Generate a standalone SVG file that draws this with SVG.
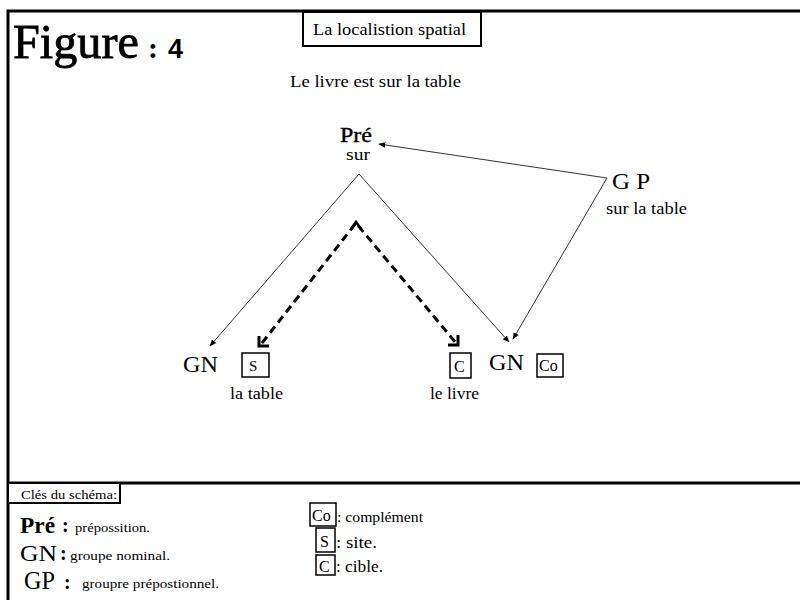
<svg xmlns="http://www.w3.org/2000/svg" width="800" height="600" viewBox="0 0 800 600">
<defs>
<style>
text{font-family:"Liberation Serif","DejaVu Serif",serif;fill:#000}
.frame{stroke:#000;stroke-width:3;fill:none}
.box{stroke:#000;stroke-width:2;fill:#fff}
.thin{stroke:#333;stroke-width:1;fill:none}
.dash{stroke:#000;stroke-width:3;stroke-dasharray:8 5;fill:none}
.lb{fill:#fff;stroke:#000;stroke-width:1.5}
</style>
<marker id="ah" viewBox="0 0 10 10" refX="9" refY="5" markerWidth="7" markerHeight="7" orient="auto" markerUnits="userSpaceOnUse">
<path d="M0,1 L10,5 L0,9 z" fill="#000"/>
</marker>
</defs>
<rect width="800" height="600" fill="#fff"/>
<g id="frame">
<path class="frame" d="M8,600 V11 H800"/>
<line class="frame" x1="8" y1="483" x2="800" y2="483"/>
</g>
<g id="title">
<text x="13" y="58" font-size="48" stroke="#000" stroke-width="0.8" textLength="126" lengthAdjust="spacingAndGlyphs">Figure</text>
<text x="148" y="58" font-size="30" font-weight="bold">:</text>
<text x="168" y="58" font-size="27" font-weight="bold" style="font-family:'Liberation Sans Narrow','Liberation Sans',sans-serif">4</text>
</g>
<g id="title-box">
<rect class="box" x="303" y="12" width="178" height="34"/>
<text x="313" y="35" font-size="16" textLength="153" lengthAdjust="spacingAndGlyphs">La localistion spatial</text>
</g>
<text x="290" y="87" font-size="16" textLength="171" lengthAdjust="spacingAndGlyphs">Le livre  est sur la table</text>
<g id="pre">
<text x="340" y="142" font-size="22" stroke="#000" stroke-width="0.4" textLength="32" lengthAdjust="spacingAndGlyphs">Pré</text>
<text x="346" y="160" font-size="16" textLength="24" lengthAdjust="spacingAndGlyphs">sur</text>
</g>
<g id="gp">
<text x="612" y="189" font-size="24" textLength="38" lengthAdjust="spacingAndGlyphs">G P</text>
<text x="606" y="214" font-size="16" textLength="81" lengthAdjust="spacingAndGlyphs">sur la table</text>
</g>
<g id="gn-left">
<text x="183" y="372" font-size="23" textLength="35" lengthAdjust="spacingAndGlyphs">GN</text>
<rect class="lb" x="242" y="353" width="27" height="24"/>
<text x="249" y="371" font-size="15">S</text>
<text x="230" y="399" font-size="16" textLength="53" lengthAdjust="spacingAndGlyphs">la table</text>
</g>
<g id="gn-right">
<rect class="lb" x="450" y="353" width="21" height="25"/>
<text x="454" y="372" font-size="16">C</text>
<text x="489" y="370" font-size="23" textLength="35" lengthAdjust="spacingAndGlyphs">GN</text>
<rect class="lb" x="537" y="354" width="26" height="23"/>
<text x="539" y="371" font-size="16">Co</text>
<text x="430" y="399" font-size="16" textLength="49" lengthAdjust="spacingAndGlyphs">le livre</text>
</g>
<g id="connectors">
<line class="thin" x1="359" y1="174" x2="210" y2="346" marker-end="url(#ah)"/>
<line class="thin" x1="359" y1="174" x2="509" y2="342" marker-end="url(#ah)"/>
<line class="thin" x1="607" y1="178" x2="379" y2="144" marker-end="url(#ah)"/>
<line class="thin" x1="607" y1="178" x2="513" y2="339" marker-end="url(#ah)"/>
<polyline class="dash" points="262,343 356,223 456,343"/>
<path d="M351,229 L356,222 L361,229" fill="none" stroke="#000" stroke-width="2.5"/>
<path d="M259,336 L259,346 L269,346" fill="none" stroke="#000" stroke-width="3"/>
<path d="M458,335 L458,345 L448,345" fill="none" stroke="#000" stroke-width="3"/>
</g>
<g id="legend">
<rect class="box" x="8" y="483" width="112" height="20"/>
<text x="21" y="499" font-size="13" textLength="96" lengthAdjust="spacingAndGlyphs">Clés du schéma:</text>
<text x="20" y="533" font-size="24" font-weight="bold" textLength="35" lengthAdjust="spacingAndGlyphs">Pré</text>
<text x="62" y="532" font-size="20" font-weight="bold">:</text>
<text x="75" y="532" font-size="13" textLength="75" lengthAdjust="spacingAndGlyphs">prépossition.</text>
<text x="20" y="561" font-size="24" textLength="37" lengthAdjust="spacingAndGlyphs">GN</text>
<text x="60" y="560" font-size="20" font-weight="bold">:</text>
<text x="70" y="560" font-size="13" textLength="100" lengthAdjust="spacingAndGlyphs">groupe nominal.</text>
<text x="24" y="589" font-size="26" textLength="31" lengthAdjust="spacingAndGlyphs">GP</text>
<text x="64" y="589" font-size="20" font-weight="bold">:</text>
<text x="82" y="588" font-size="13" textLength="137" lengthAdjust="spacingAndGlyphs">groupre prépostionnel.</text>
<rect class="lb" x="310" y="503" width="26" height="23"/>
<text x="312" y="521" font-size="16">Co</text>
<text x="337" y="522" font-size="14" textLength="86" lengthAdjust="spacingAndGlyphs">: complément</text>
<rect class="lb" x="316" y="528" width="19" height="24"/>
<text x="320" y="547" font-size="16">S</text>
<text x="336" y="548" font-size="16" textLength="41" lengthAdjust="spacingAndGlyphs">: site.</text>
<rect class="lb" x="316" y="555" width="19" height="20"/>
<text x="319" y="572" font-size="16">C</text>
<text x="336" y="572" font-size="16" textLength="47" lengthAdjust="spacingAndGlyphs">: cible.</text>
</g>
</svg>
